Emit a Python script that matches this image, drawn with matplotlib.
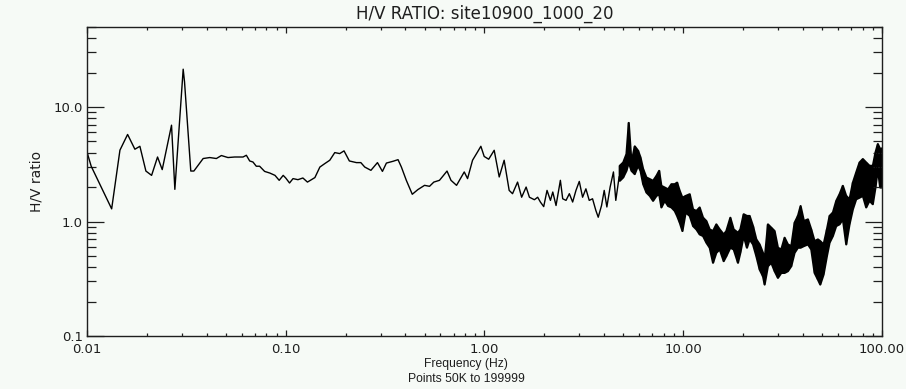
#!/usr/bin/env python3
"""
H/V spectral ratio plot for a single site, log-log frequency axis.
"""

import matplotlib
matplotlib.use('Agg')
import matplotlib.pyplot as plt
from matplotlib.ticker import FixedLocator, FixedFormatter, LogLocator, NullFormatter

SITE = 'site10900_1000_20'
POINTS_NOTE = 'Points 50K to 199999'

# Smoothed part of the ratio curve (below ~5 Hz)
line_freq = [
    0.0100, 0.0105, 0.01331, 0.01465, 0.01601, 0.01742, 0.01846, 0.01979,
    0.02114, 0.02265, 0.02391, 0.02663, 0.02768, 0.03048, 0.03096, 0.03329,
    0.03450, 0.03842, 0.04147, 0.04478, 0.04745, 0.05122, 0.05535, 0.06097,
    0.06337, 0.06587, 0.0684, 0.0711, 0.0739, 0.0783, 0.0832, 0.0883,
    0.0927, 0.0971, 0.1000, 0.1045, 0.1088, 0.1152, 0.1220, 0.1286,
    0.1402, 0.1485, 0.1574, 0.1666, 0.1765, 0.1869, 0.1965, 0.2090,
    0.2268, 0.2387, 0.2498, 0.2683, 0.2894, 0.3066, 0.3210, 0.3469,
    0.3673, 0.3819, 0.4043, 0.4332, 0.4622, 0.4994, 0.5290, 0.5560,
    0.5936, 0.6165, 0.6479, 0.6784, 0.7235, 0.7910, 0.8220, 0.8709,
    0.9226, 0.9589, 0.9966, 1.050, 1.119, 1.186, 1.256, 1.331,
    1.384, 1.467, 1.538, 1.620, 1.683, 1.783, 1.852, 1.911,
    1.986, 2.064, 2.147, 2.206, 2.291, 2.409, 2.475, 2.572,
    2.673, 2.777, 2.886, 2.999, 3.116, 3.238, 3.365, 3.497,
    3.633, 3.735, 3.881, 4.003, 4.128, 4.287, 4.455, 4.578,
    4.757,
]
line_ratio = [
    4.05, 3.04, 1.29, 4.20, 5.76, 4.28, 4.54, 2.76,
    2.53, 3.66, 2.84, 6.94, 1.91, 21.4, 16.6, 2.76,
    2.76, 3.55, 3.62, 3.55, 3.77, 3.62, 3.66, 3.66,
    3.79, 3.38, 3.31, 3.04, 3.04, 2.74, 2.65, 2.53,
    2.29, 2.53, 2.40, 2.17, 2.37, 2.32, 2.40, 2.21,
    2.42, 2.99, 3.21, 3.43, 4.00, 3.92, 4.14, 3.38,
    3.27, 3.27, 2.99, 2.80, 3.27, 2.74, 3.24, 3.36,
    3.47, 2.99, 2.29, 1.73, 1.90, 2.07, 2.03, 2.21,
    2.29, 2.48, 2.76, 2.29, 2.07, 2.71, 2.37, 3.43,
    4.05, 4.54, 3.70, 3.50, 4.19, 2.45, 3.43, 1.87,
    1.75, 2.21, 1.63, 2.00, 1.63, 1.55, 1.63, 1.48,
    1.35, 1.87, 1.53, 1.81, 1.38, 2.29, 1.58, 1.53,
    1.75, 1.48, 1.87, 2.24, 1.63, 1.93, 1.53, 1.58,
    1.25, 1.09, 1.38, 1.87, 1.34, 2.00, 2.71, 1.53,
    2.45,
]

# Noisy high-frequency part: spread of the ratio at each frequency
band_freq = [
    4.77, 4.96, 5.15, 5.29, 5.46, 5.67, 5.89, 6.06, 6.25, 6.49,
    6.75, 7.01, 7.29, 7.52, 7.72, 8.03, 8.34, 8.67, 9.01, 9.26,
    9.55, 9.85, 10.23, 10.72, 11.14, 11.58, 12.03, 12.51, 13.00, 13.51,
    14.04, 14.59, 15.17, 15.89, 16.38, 17.16, 17.84, 18.75, 19.27, 20.02,
    20.81, 21.46, 22.31, 23.19, 24.10, 25.04, 25.53, 26.53, 27.58, 28.66,
    29.79, 30.96, 32.18, 33.44, 34.76, 36.13, 37.55, 38.73, 40.25, 42.16,
    43.81, 45.54, 47.33, 48.63, 50.54, 52.53, 54.18, 56.30, 58.52, 60.81,
    63.20, 65.69, 68.27, 70.96, 73.74, 76.64, 79.65, 82.79, 86.04, 89.42,
    92.23, 94.76, 97.34, 99.5,
]
band_low = [
    2.29, 2.45, 2.80, 3.31, 2.80, 2.62, 3.10, 2.80, 2.14, 1.81,
    1.69, 1.53, 1.69, 1.75, 1.34, 1.53, 1.38, 1.34, 1.25, 1.13,
    0.987, 0.834, 1.21, 1.13, 0.922, 0.862, 0.779, 0.754, 0.659, 0.596,
    0.440, 0.538, 0.576, 0.455, 0.503, 0.596, 0.576, 0.440, 0.538, 0.754,
    0.596, 0.705, 0.637, 0.503, 0.384, 0.336, 0.284, 0.411, 0.440, 0.372,
    0.325, 0.359, 0.359, 0.372, 0.411, 0.538, 0.596, 0.596, 0.616, 0.637,
    0.576, 0.359, 0.314, 0.284, 0.347, 0.503, 0.659, 0.754, 0.922, 0.954,
    1.055, 0.637, 0.954, 1.29, 1.58, 1.63, 1.69, 1.34, 1.53, 1.43,
    2.00, 2.90, 2.00, 2.00,
]
band_high = [
    3.10, 3.31, 3.92, 7.34, 3.31, 4.58, 4.20, 3.67, 2.90, 2.45,
    2.37, 2.29, 2.53, 2.80, 2.07, 2.00, 1.93, 2.14, 2.14, 2.21,
    1.87, 1.63, 1.69, 1.75, 1.29, 1.25, 1.34, 1.09, 1.02, 0.862,
    0.834, 0.954, 0.862, 0.779, 0.834, 1.09, 0.862, 0.806, 0.862, 1.17,
    1.13, 1.13, 0.922, 0.705, 0.637, 0.538, 0.471, 0.954, 0.892, 0.834,
    0.596, 0.576, 0.729, 0.637, 0.616, 0.987, 1.13, 1.38, 1.02, 1.055,
    0.862, 0.681, 0.705, 0.681, 0.637, 0.862, 1.13, 1.21, 1.53, 1.75,
    2.07, 1.69, 1.58, 2.21, 2.71, 3.31, 3.55, 3.31, 3.10, 3.10,
    4.06, 4.80, 4.34, 4.40,
]

x_major = [0.01, 0.1, 1.0, 10.0, 100.0]
x_labels = ['0.01', '0.10', '1.00', '10.00', '100.00']
y_major = [0.1, 1.0, 10.0]
y_labels = ['0.1', '1.0', '10.0']

BG = '#f6faf6'
INK = '#1e1e1e'


def plot_hv_ratio(output_file):
    fig = plt.figure(figsize=(9.06, 3.89), dpi=100, facecolor=BG)
    ax = fig.add_axes([0.0960, 0.1362, 0.8775, 0.7944])
    ax.set_facecolor(BG)

    ax.plot(line_freq, line_ratio, color='black', linewidth=1.0)
    ax.fill_between(band_freq, band_low, band_high, color='black',
                    linewidth=1.5)
    # vertical strokes across the spread give the band its hairy look
    ax.vlines(band_freq, band_low, band_high, color='black', linewidth=1.0)

    ax.set_xscale('log')
    ax.set_yscale('log')
    ax.set_xlim(0.01, 100.0)
    ax.set_ylim(0.1, 50.0)

    ax.xaxis.set_major_locator(FixedLocator(x_major))
    ax.xaxis.set_major_formatter(FixedFormatter(x_labels))
    ax.yaxis.set_major_locator(FixedLocator(y_major))
    ax.yaxis.set_major_formatter(FixedFormatter(y_labels))
    for axis in (ax.xaxis, ax.yaxis):
        axis.set_minor_locator(LogLocator(base=10, subs=range(2, 10), numticks=20))
        axis.set_minor_formatter(NullFormatter())

    # IDL-style box: inward ticks on every side, long ones on the y axis
    ax.tick_params(which='both', direction='in', top=True, right=True,
                   color=INK, width=0.9, labelcolor=INK)
    ax.tick_params(axis='x', which='major', length=4.3, pad=5, labelsize=9.5)
    ax.tick_params(axis='x', which='minor', length=2.2)
    ax.tick_params(axis='y', which='major', length=12.2, pad=3, labelsize=9.5)
    ax.tick_params(axis='y', which='minor', length=6.3)
    for spine in ax.spines.values():
        spine.set_color(INK)
        spine.set_linewidth(1.0)

    ax.set_title(f'H/V RATIO: {SITE}', fontsize=12, color=INK, pad=6)
    ax.set_ylabel('H/V ratio', fontsize=10, color=INK, labelpad=7)
    ax.set_xlabel(f'Frequency (Hz)\n{POINTS_NOTE}', fontsize=8.7, color=INK,
                  labelpad=1.5, linespacing=1.3, family='Liberation Sans')
    ax.xaxis.label.set_x(0.477)

    fig.savefig(output_file, dpi=100, facecolor=BG)
    plt.close(fig)


if __name__ == '__main__':
    plot_hv_ratio('out.png')
